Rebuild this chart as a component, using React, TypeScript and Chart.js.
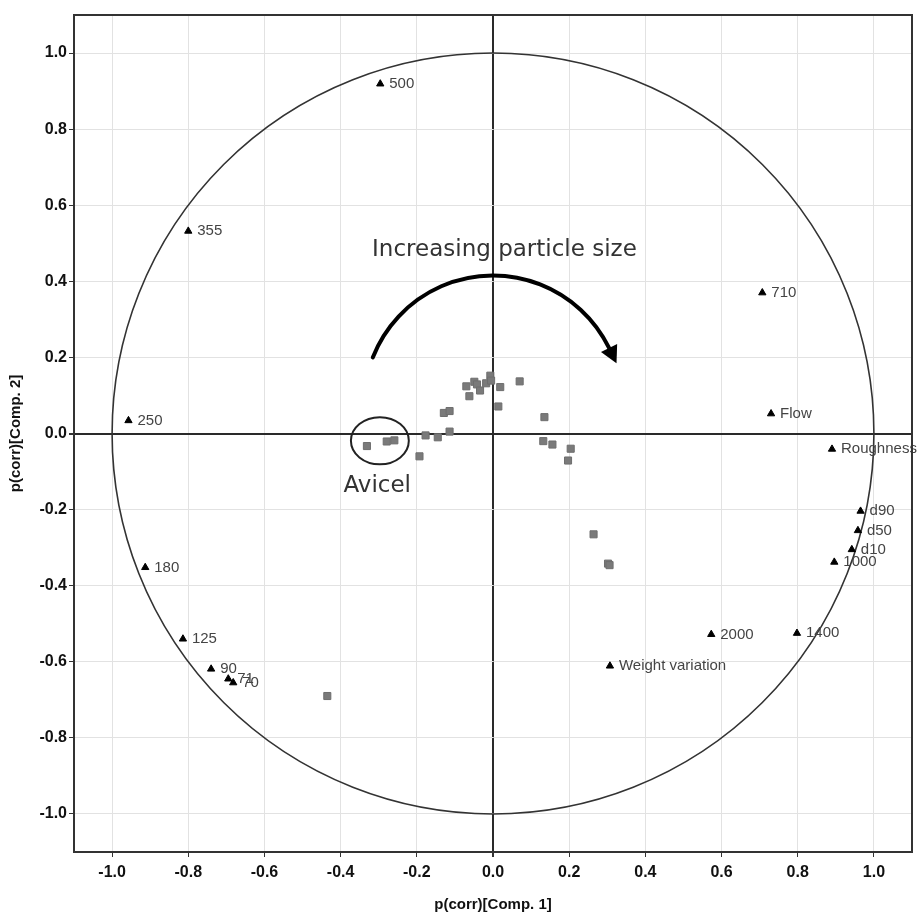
import React, { useEffect, useRef } from 'react';
import { Chart, registerables } from 'chart.js';

Chart.register(...registerables);

// ---- Data ----
const variableLabels = ['500', '355', '710', 'Flow', '250', 'Roughness', 'd90', 'd50', 'd10', '1000', '180', '125', '90', '71', '70', '2000', '1400', 'Weight variation'];
const variableX = [-0.296, -0.800, 0.707, 0.730, -0.957, 0.890, 0.965, 0.958, 0.942, 0.896, -0.913, -0.814, -0.740, -0.695, -0.682, 0.573, 0.798, 0.307];
const variableY = [0.919, 0.532, 0.370, 0.052, 0.034, -0.041, -0.204, -0.255, -0.305, -0.338, -0.352, -0.540, -0.619, -0.645, -0.655, -0.528, -0.525, -0.611];

const observationX = [-0.331, -0.279, -0.259, -0.193, -0.177, -0.145, -0.114, -0.129, -0.114, -0.062, -0.070, -0.049, -0.042, -0.034, -0.018, -0.007, -0.005, 0.019, 0.014, 0.070, 0.135, 0.132, 0.156, 0.204, 0.197, 0.264, 0.302, 0.306, -0.435];
const observationY = [-0.033, -0.021, -0.018, -0.060, -0.005, -0.010, 0.005, 0.054, 0.059, 0.098, 0.124, 0.136, 0.129, 0.113, 0.132, 0.152, 0.139, 0.122, 0.071, 0.137, 0.043, -0.020, -0.029, -0.040, -0.071, -0.265, -0.342, -0.346, -0.690];

const xTicks = [-1.0, -0.8, -0.6, -0.4, -0.2, 0.0, 0.2, 0.4, 0.6, 0.8, 1.0];
const yTicks = [-1.0, -0.8, -0.6, -0.4, -0.2, 0.0, 0.2, 0.4, 0.6, 0.8, 1.0];

const xTitle = 'p(corr)[Comp. 1]';
const yTitle = 'p(corr)[Comp. 2]';
const annotationText = 'Increasing particle size';
const avicelText = 'Avicel';

// annotation geometry (data units)
const avicelEllipse = { x: -0.297, y: -0.019, rx: 0.076, ry: 0.062 };
const avicelLabelPos = { x: -0.304, y: -0.155 };
const annotationPos = { x: 0.030, y: 0.467 };
const arrowArc = { x: 0.0, y: 0.076, r: 0.339, startDeg: -158.6, endDeg: -26 };

const SANS = "'Liberation Sans', Arial, sans-serif";

const overlayPlugin = {
  id: 'overlay',
  beforeDatasetsDraw(chart: any) {
    const { ctx, chartArea, scales } = chart;
    const xs = scales.x;
    const ys = scales.y;
    const px = (v: number) => xs.getPixelForValue(v);
    const py = (v: number) => ys.getPixelForValue(v);
    const ux = px(1) - px(0);
    const uy = py(0) - py(1);
    ctx.save();
    // unit circle
    ctx.beginPath();
    ctx.ellipse(px(0), py(0), ux, uy, 0, 0, Math.PI * 2);
    ctx.strokeStyle = '#333';
    ctx.lineWidth = 1.6;
    ctx.stroke();

    // Avicel ellipse
    ctx.beginPath();
    ctx.ellipse(px(avicelEllipse.x), py(avicelEllipse.y), avicelEllipse.rx * ux, avicelEllipse.ry * uy, 0, 0, Math.PI * 2);
    ctx.strokeStyle = '#222';
    ctx.lineWidth = 2;
    ctx.stroke();

    // Arrow arc
    const cx = px(arrowArc.x);
    const cy = py(arrowArc.y);
    const r = arrowArc.r * ux;
    const a0 = (arrowArc.startDeg * Math.PI) / 180;
    const a1 = (arrowArc.endDeg * Math.PI) / 180;
    ctx.beginPath();
    ctx.arc(cx, cy, r, a0, a1, false);
    ctx.strokeStyle = '#000';
    ctx.lineWidth = 4;
    ctx.lineCap = 'round';
    ctx.stroke();
    const P = { x: cx + r * Math.cos(a1), y: cy + r * Math.sin(a1) };
    const d = { x: -Math.sin(a1), y: Math.cos(a1) };
    const n = { x: Math.cos(a1), y: Math.sin(a1) };
    const len = 17;
    const hw = 9;
    ctx.beginPath();
    ctx.moveTo(P.x + d.x * len, P.y + d.y * len);
    ctx.lineTo(P.x + n.x * hw, P.y + n.y * hw);
    ctx.lineTo(P.x - n.x * hw, P.y - n.y * hw);
    ctx.closePath();
    ctx.fillStyle = '#000';
    ctx.fill();

    // Texts
    ctx.fillStyle = '#333';
    ctx.font = "23px 'DejaVu Sans', sans-serif";
    ctx.textAlign = 'center';
    ctx.textBaseline = 'alphabetic';
    ctx.fillText(annotationText, px(annotationPos.x), py(annotationPos.y));
    ctx.fillText(avicelText, px(avicelLabelPos.x), py(avicelLabelPos.y));
    ctx.restore();
  },
  afterDatasetsDraw(chart: any) {
    const { ctx, scales } = chart;
    const xs = scales.x;
    const ys = scales.y;
    ctx.save();
    ctx.font = `15px ${SANS}`;
    ctx.fillStyle = '#444';
    ctx.textAlign = 'left';
    ctx.textBaseline = 'middle';
    variableLabels.forEach((lab, i) => {
      ctx.fillText(lab, xs.getPixelForValue(variableX[i]) + 9, ys.getPixelForValue(variableY[i]));
    });
    ctx.restore();
  },
  afterDraw(chart: any) {
    const { ctx, chartArea } = chart;
    ctx.save();
    ctx.strokeStyle = '#333';
    ctx.lineWidth = 2;
    ctx.strokeRect(chartArea.left, chartArea.top, chartArea.right - chartArea.left, chartArea.bottom - chartArea.top);
    ctx.fillStyle = '#111';
    ctx.font = `bold 15px ${SANS}`;
    ctx.textAlign = 'center';
    ctx.textBaseline = 'middle';
    ctx.fillText(xTitle, (chartArea.left + chartArea.right) / 2 + 74 - 74, 905);
    ctx.translate(16, (chartArea.top + chartArea.bottom) / 2);
    ctx.rotate(-Math.PI / 2);
    ctx.fillText(yTitle, 0, 0);
    ctx.restore();
  },
};

export default function App() {
  const canvasRef = useRef<HTMLCanvasElement | null>(null);

  useEffect(() => {
    document.body.style.margin = '0';
    const canvas = canvasRef.current;
    if (!canvas) return;

    const gridColor = (ctx: any) => (ctx.tick && Math.abs(ctx.tick.value) < 1e-9 ? '#2a2a2a' : '#e2e2e2');
    const gridWidth = (ctx: any) => (ctx.tick && Math.abs(ctx.tick.value) < 1e-9 ? 2 : 1);

    const chart = new Chart(canvas, {
      type: 'scatter',
      data: {
        datasets: [
          {
            label: 'Observations',
            data: observationX.map((x, i) => ({ x, y: observationY[i] })),
            pointStyle: 'rect',
            pointRadius: 5,
            backgroundColor: '#7a7a7a',
            borderColor: '#6e6e6e',
            borderWidth: 1,
          },
          {
            label: 'Variables',
            data: variableX.map((x, i) => ({ x, y: variableY[i] })),
            pointStyle: 'triangle',
            pointRadius: 4.2,
            backgroundColor: '#000',
            borderColor: '#000',
            borderWidth: 1,
          },
        ],
      },
      options: {
        responsive: false,
        animation: false,
        devicePixelRatio: 1,
        layout: { padding: { top: 15, right: 10, left: 0, bottom: 0 } },
        plugins: {
          legend: { display: false },
          tooltip: { enabled: false },
        },
        scales: {
          x: {
            type: 'linear',
            min: -1.1,
            max: 1.1,
            afterBuildTicks: (scale: any) => {
              scale.ticks = xTicks.map((v) => ({ value: v }));
            },
            afterFit: (scale: any) => {
              scale.height = 64;
            },
            grid: { color: gridColor, lineWidth: gridWidth, tickColor: '#333', tickLength: 5 },
            border: { display: true, color: '#333', width: 2 },
            ticks: {
              padding: 6,
              color: '#111',
              font: { family: SANS, size: 16, weight: 'bold' },
              callback: (v: any) => Number(v).toFixed(1),
              maxRotation: 0,
            },
          },
          y: {
            type: 'linear',
            min: -1.1,
            max: 1.1,
            afterBuildTicks: (scale: any) => {
              scale.ticks = yTicks.map((v) => ({ value: v }));
            },
            afterFit: (scale: any) => {
              scale.width = 74;
            },
            grid: { color: gridColor, lineWidth: gridWidth, tickColor: '#333', tickLength: 5 },
            border: { display: true, color: '#333', width: 2 },
            ticks: {
              padding: 2,
              color: '#111',
              font: { family: SANS, size: 16, weight: 'bold' },
              callback: (v: any) => Number(v).toFixed(1),
            },
          },
        },
      } as any,
      plugins: [overlayPlugin],
    });

    return () => chart.destroy();
  }, []);

  return (
    <div style={{ width: 922, height: 916, background: '#fff' }}>
      <canvas ref={canvasRef} width={922} height={916} style={{ display: 'block' }} />
    </div>
  );
}
